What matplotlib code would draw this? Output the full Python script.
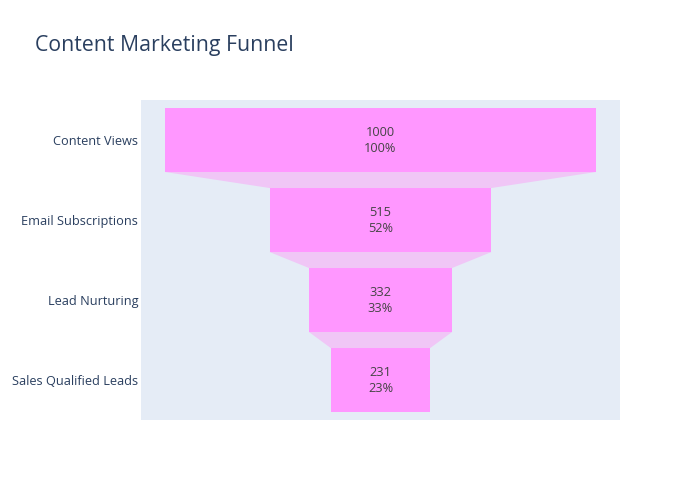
import matplotlib.pyplot as plt
from matplotlib.patches import Polygon

plt.rcParams['font.family'] = ['Open Sans', 'DejaVu Sans']

stages = ["Content Views", "Email Subscriptions", "Lead Nurturing", "Sales Qualified Leads"]
values = [1000, 515, 332, 231]

bar_color = "#FF97FF"
conn_color = "#F0C6F6"
text_color = "#2a3f5f"

fig = plt.figure(figsize=(7, 5), dpi=100)
ax = fig.add_axes([141 / 700, 80 / 500, 479 / 700, 320 / 500])
ax.set_facecolor("#E5ECF6")

pos = list(range(len(stages)))
h = 0.8
ax.barh(pos, values, left=[-v / 2 for v in values], height=h, color=bar_color, zorder=2)

# connectors between bars
for i in range(len(values) - 1):
    a, b = values[i], values[i + 1]
    y0 = pos[i] + h / 2
    y1 = pos[i + 1] - h / 2
    poly = Polygon([(-a / 2, y0), (a / 2, y0), (b / 2, y1), (-b / 2, y1)],
                   closed=True, facecolor=conn_color, edgecolor="none", zorder=1)
    ax.add_patch(poly)

for p, v in zip(pos, values):
    pct = round(v / values[0] * 100)
    ax.text(0, p, f"{v}\n{pct}%", ha="center", va="center", fontsize=9.2,
            color="#444444", linespacing=1.3, zorder=3)

half = 555.7
ax.set_xlim(-half, half)
ax.set_ylim(len(stages) - 0.5, -0.5)
ax.set_yticks(pos)
ax.set_yticklabels(stages, fontsize=9.2, color=text_color)
ax.set_xticks([])
ax.tick_params(axis="y", length=0, pad=2)
for s in ax.spines.values():
    s.set_visible(False)

fig.text(35 / 700, 1 - 45 / 500, "Content Marketing Funnel", fontsize=15.3,
         color=text_color, va="center", ha="left")

fig.savefig("out.png", dpi=100)
